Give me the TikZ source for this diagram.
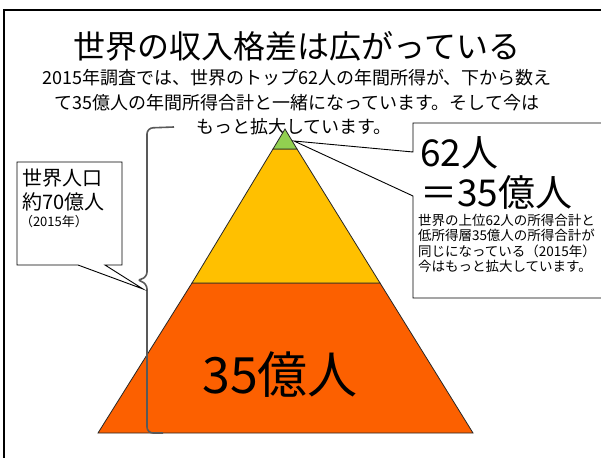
\documentclass[tikz,border=0pt]{standalone}
\usepackage{fontspec}
\setmainfont{Noto Sans CJK JP}
\definecolor{pgreen}{RGB}{146,208,80}
\definecolor{pyellow}{RGB}{255,192,0}
\definecolor{porange}{RGB}{252,96,0}
\tikzset{
  txt/.style={inner sep=0pt, outer sep=0pt},
  callout/.style={draw=black, line width=0.9pt, fill=white, line join=miter},
  layer/.style={draw=black!85, line width=0.8pt, line join=miter},
  bracel/.style={draw=gray!70!black, line width=1.6pt, rounded corners=6pt}
}
\begin{document}
\begin{tikzpicture}[x=1pt,y=-1pt]
\useasboundingbox (0,0) rectangle (601,457);
\clip (0,0) rectangle (601,457);
\fill[white] (0,0) rectangle (601,457);
% outer frame
\draw[line width=1.6pt] (4,470) -- (4,10) -- (620,10);
% title and subtitle
\node[txt, font=\fontsize{32}{36}\selectfont] (title) at (297,46) {世界の収入格差は広がっている};
\node[txt, font=\fontsize{18}{20}\selectfont] (sub1) at (297,78) {2015年調査では、世界のトップ62人の年間所得が、下から数え};
\node[txt, font=\fontsize{18}{20}\selectfont] (sub2) at (297,103) {て35億人の年間所得合計と一緒になっています。そして今は};
\node[txt, font=\fontsize{18}{20}\selectfont] (sub3) at (294,127) {もっと拡大しています。};
% pyramid
\coordinate (apex) at (285,129);
\coordinate (gl) at (273,149);
\coordinate (gr) at (297,149);
\coordinate (yl) at (192,283);
\coordinate (yr) at (380,283);
\coordinate (bl) at (98,433);
\coordinate (br) at (473,433);
\filldraw[layer, fill=porange] (yl) -- (yr) -- (br) -- (bl) -- cycle;
\filldraw[layer, fill=pyellow] (gl) -- (gr) -- (yr) -- (yl) -- cycle;
\filldraw[layer, fill=pgreen] (apex) -- (gr) -- (gl) -- cycle;
\node[txt, font=\fontsize{50}{54}\selectfont] (big) at (280,375) {35億人};
% brace
\coordinate (btop) at (174,127);
\coordinate (bmid) at (136,280);
\coordinate (bbot) at (163,433);
\draw[bracel] (btop) -- (147,128) -- (147,278) -- (bmid) -- (147,283) -- (147,433) -- (bbot);
% left callout
\coordinate (ltip) at (143,289);
\filldraw[callout] (17,162) -- (122,162) -- (122,265) -- (105,265) -- (ltip) -- (78,265) -- (17,265) -- cycle;
\node[txt, anchor=west, font=\fontsize{20}{22}\selectfont] (pop1) at (22,178) {世界人口};
\node[txt, anchor=west, font=\fontsize{20}{22}\selectfont] (pop2) at (22,202) {約70億人};
\node[txt, anchor=west, font=\fontsize{13}{15}\selectfont] (pop3) at (20,222) {（2015年）};
% right callout
\coordinate (rtip) at (294,141);
\filldraw[callout] (620,123) -- (413,123) -- (413,152) -- (rtip) -- (413,196) -- (413,298) -- (620,298);
\node[txt, anchor=west, font=\fontsize{37}{40}\selectfont] (r1) at (420,153) {62人};
\node[txt, anchor=west, font=\fontsize{37}{40}\selectfont] (r2) at (420,192) {＝35億人};
\node[txt, anchor=west, font=\fontsize{13.5}{15}\selectfont] (s1) at (418,220) {世界の上位62人の所得合計と};
\node[txt, anchor=west, font=\fontsize{13.5}{15}\selectfont] (s2) at (418,235.5) {低所得層35億人の所得合計が};
\node[txt, anchor=west, font=\fontsize{13.5}{15}\selectfont] (s3) at (418,251) {同じになっている（2015年）};
\node[txt, anchor=west, font=\fontsize{13.5}{15}\selectfont] (s4) at (418,266.5) {今はもっと拡大しています。};
\end{tikzpicture}
\end{document}
